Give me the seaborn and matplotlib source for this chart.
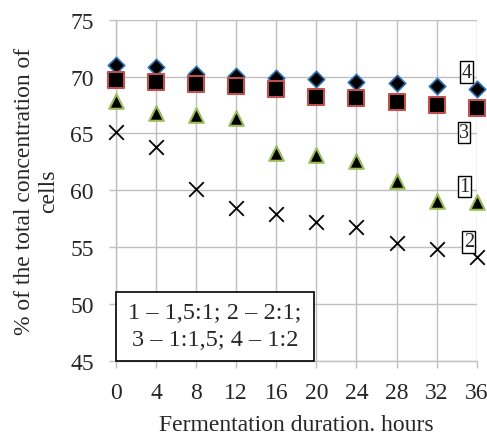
import pandas as pd
import matplotlib
matplotlib.use("Agg")
import matplotlib.pyplot as plt
from matplotlib.patches import Rectangle
import seaborn as sns

hours = [0, 4, 8, 12, 16, 20, 24, 28, 32, 36]
series_1 = [67.9, 66.8, 66.6, 66.4, 63.3, 63.1, 62.6, 60.85, 59.1, 58.95]
series_2 = [65.15, 63.8, 60.1, 58.4, 57.9, 57.2, 56.8, 55.4, 54.85, 54.1]
series_3 = [69.7, 69.5, 69.4, 69.2, 68.9, 68.2, 68.1, 67.8, 67.5, 67.2]
series_4 = [71.0, 70.85, 70.2, 70.1, 69.85, 69.8, 69.5, 69.45, 69.15, 68.9]

x_ticks = [0, 4, 8, 12, 16, 20, 24, 28, 32, 36]
y_ticks = [45, 50, 55, 60, 65, 70, 75]
legend_text = "1 – 1,5:1; 2 – 2:1;\n3 – 1:1,5; 4 – 1:2"
x_label = "Fermentation duration. hours"
y_label = "% of the total concentration of\ncells"

sns.set_style("white")
plt.rcParams['font.family'] = ['Liberation Serif', 'DejaVu Serif']

fig = plt.figure(figsize=(4.87, 4.35), dpi=100)
ax = fig.add_axes([0.238, 0.1685, 0.741, 0.7835])

grid_c = "#bfbfbf"
ax.set_xlim(0, 36)
ax.set_ylim(45, 75)
ax.set_xticks(x_ticks)
ax.set_yticks(y_ticks)
ax.grid(True, color=grid_c, linewidth=1.0)
ax.set_axisbelow(True)
for side in ["top", "right"]:
    ax.spines[side].set_visible(False)
for side in ["left", "bottom"]:
    ax.spines[side].set_color(grid_c)
    ax.spines[side].set_linewidth(1.0)
ax.tick_params(axis="both", direction="out", length=5, width=1, color=grid_c,
               labelsize=17, bottom=True, left=True)
ax.tick_params(axis="x", pad=10)
ax.tick_params(axis="y", pad=11)

sns.scatterplot(x=hours, y=series_4, marker="D", s=70, color="black",
                edgecolor="#2e75b6", linewidth=1.2, ax=ax, clip_on=False, zorder=3)
sns.scatterplot(x=hours, y=series_3, marker="s", s=140, color="black",
                edgecolor="#c0504d", linewidth=1.5, ax=ax, clip_on=False, zorder=3)
sns.scatterplot(x=hours, y=series_1, marker="^", s=110, color="black",
                edgecolor="#9bbb59", linewidth=1.5, ax=ax, clip_on=False, zorder=3)
sns.scatterplot(x=hours, y=series_2, marker="x", s=110, color="black",
                linewidth=1.3, ax=ax, clip_on=False, zorder=3)

box = dict(boxstyle="square,pad=0.06", facecolor="white", edgecolor="black", linewidth=1.0)
ax.text(35.0, 70.4, "4", fontsize=14.5, ha="center", va="center", bbox=box, zorder=4)
ax.text(34.75, 65.1, "3", fontsize=14.5, ha="center", va="center", bbox=box, zorder=4)
ax.text(34.8, 60.35, "1", fontsize=14.5, ha="center", va="center", bbox=box, zorder=4)
ax.text(35.2, 55.45, "2", fontsize=14.5, ha="center", va="center", bbox=box, zorder=4)

ax.add_patch(Rectangle((0, 45), 19.76, 6.08, facecolor="white", edgecolor="black",
                       linewidth=1.2, zorder=5, clip_on=False))
ax.text(9.88, 48.04, legend_text, fontsize=17.5, ha="center", va="center",
        linespacing=1.35, zorder=6)

ax.set_xlabel(x_label, fontsize=17, labelpad=8)
ax.set_ylabel(y_label, fontsize=17, labelpad=8, linespacing=1.2)

fig.savefig("out.png", dpi=100)
plt.close(fig)
